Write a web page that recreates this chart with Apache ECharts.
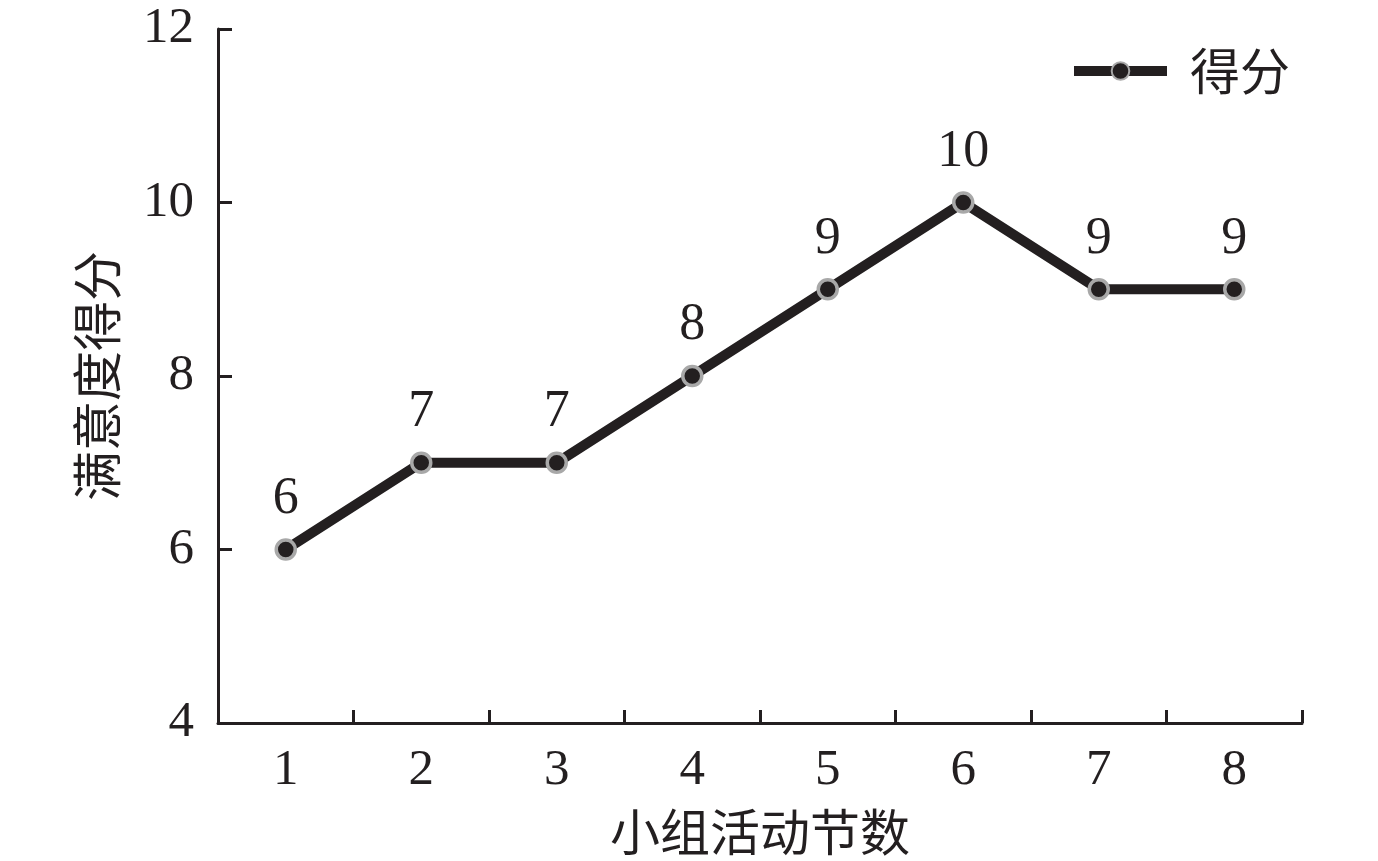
<!DOCTYPE html>
<html>
<head>
<meta charset="utf-8">
<script src="https://cdn.jsdelivr.net/npm/echarts@6/dist/echarts.min.js"></script>
<style>
  html, body { margin: 0; padding: 0; background: #fff; }
  #chart { width: 1378px; height: 861px; }
</style>
</head>
<body>
<div id="chart"></div>
<script>
  // 小组活动节数 / 满意度得分
  var sessions = ['1', '2', '3', '4', '5', '6', '7', '8'];
  var scores = [6, 7, 7, 8, 9, 10, 9, 9];
  var yTicks = { min: 4, max: 12, interval: 2 };

  var ink = '#231f20';
  var serif = '"Liberation Serif", "Noto Sans CJK SC", serif';
  var cjk = '"Noto Sans CJK SC", "Liberation Serif", serif';

  var myChart = echarts.init(document.getElementById('chart'));
  myChart.setOption({
    animation: false,
    legend: {
      data: ['得分'],
      right: 83,
      top: 41,
      itemWidth: 93,
      itemHeight: 22,
      lineStyle: { width: 10 },
      textStyle: { fontFamily: cjk, fontSize: 50, color: ink, padding: [0, 0, 0, 18] }
    },
    grid: {
      left: 218,
      top: 29,
      right: 76,
      bottom: 138,
      containLabel: false,
      outerBoundsMode: 'none'
    },
    xAxis: {
      type: 'category',
      data: sessions,
      boundaryGap: true,
      name: '小组活动节数',
      nameLocation: 'middle',
      nameGap: 84,
      nameTextStyle: { fontFamily: cjk, fontSize: 50, color: ink },
      axisLine: { lineStyle: { color: ink, width: 3 } },
      axisTick: { show: true, inside: true, length: 13, lineStyle: { color: ink, width: 3 } },
      axisLabel: { margin: 22, fontFamily: serif, fontSize: 51, color: ink },
      splitLine: { show: false }
    },
    yAxis: {
      type: 'value',
      min: yTicks.min,
      max: yTicks.max,
      interval: yTicks.interval,
      name: '满意度得分',
      nameLocation: 'middle',
      nameGap: 96,
      nameRotate: 90,
      nameTextStyle: { fontFamily: cjk, fontSize: 50, color: ink },
      axisLine: { show: true, lineStyle: { color: ink, width: 3 } },
      axisTick: { show: true, inside: true, length: 14, lineStyle: { color: ink, width: 3 } },
      axisLabel: { margin: 24, fontFamily: serif, fontSize: 51, color: ink },
      splitLine: { show: false }
    },
    series: [{
      name: '得分',
      type: 'line',
      data: scores,
      symbol: 'circle',
      symbolSize: 19,
      lineStyle: { color: ink, width: 10 },
      itemStyle: { color: ink, borderColor: '#a8a8a8', borderWidth: 3.5 },
      label: {
        show: true,
        position: 'top',
        distance: 13,
        fontFamily: serif,
        fontSize: 52,
        color: ink
      }
    }]
  });

  window.addEventListener('resize', function () {
    myChart.resize();
  });
</script>
</body>
</html>
